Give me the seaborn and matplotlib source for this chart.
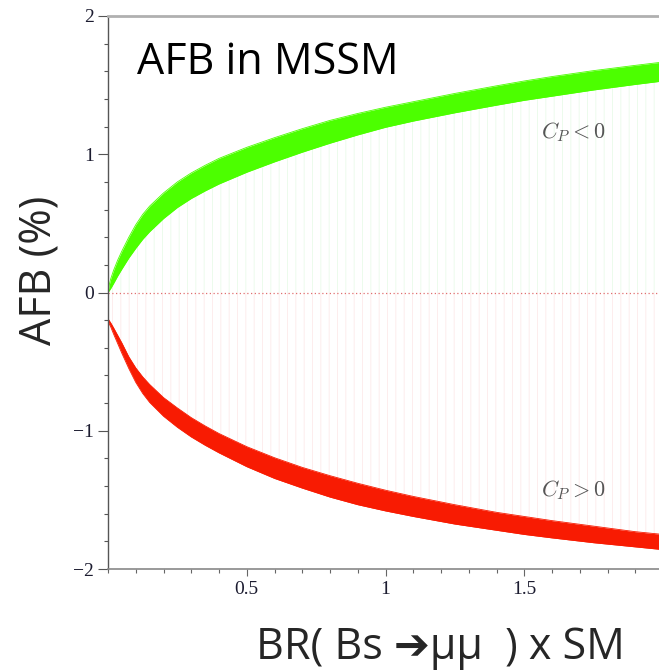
import numpy as np
import pandas as pd
import matplotlib
matplotlib.use("Agg")
import matplotlib.pyplot as plt
import seaborn as sns
from matplotlib.ticker import MultipleLocator, FixedLocator

# ---- data ----
br_sm = [0, 0.005, 0.01, 0.02, 0.035, 0.05, 0.075, 0.1, 0.125, 0.15, 0.2, 0.25, 0.3,
         0.35, 0.4, 0.5, 0.6, 0.7, 0.8, 0.9, 1.0, 1.1, 1.25, 1.4, 1.5, 1.6, 1.75, 1.9, 2.0]
cp_neg_upper = [0, 0.06, 0.10, 0.16, 0.235, 0.30, 0.40, 0.49, 0.565, 0.625, 0.72, 0.80, 0.865,
                0.92, 0.97, 1.05, 1.12, 1.185, 1.245, 1.295, 1.34, 1.38, 1.44, 1.495, 1.53,
                1.562, 1.605, 1.643, 1.667]
cp_neg_lower = [0, 0.015, 0.03, 0.065, 0.12, 0.17, 0.25, 0.32, 0.385, 0.44, 0.535, 0.615, 0.68,
                0.735, 0.785, 0.87, 0.945, 1.015, 1.08, 1.14, 1.195, 1.24, 1.30, 1.355, 1.39,
                1.42, 1.465, 1.505, 1.53]
cp_pos_upper = [-0.19, -0.205, -0.22, -0.255, -0.31, -0.365, -0.465, -0.545, -0.61, -0.665,
                -0.76, -0.835, -0.905, -0.965, -1.02, -1.115, -1.195, -1.265, -1.325, -1.38,
                -1.43, -1.475, -1.535, -1.59, -1.62, -1.65, -1.69, -1.73, -1.75]
cp_pos_lower = [-0.21, -0.23, -0.25, -0.30, -0.37, -0.44, -0.55, -0.65, -0.73, -0.795, -0.895,
                -0.975, -1.045, -1.105, -1.16, -1.26, -1.345, -1.415, -1.48, -1.535, -1.58,
                -1.62, -1.675, -1.72, -1.75, -1.775, -1.81, -1.84, -1.86]

y_ticks = [-2, -1, 0, 1, 2]
y_tick_labels = ["\u22122", "\u22121", "0", "1", "2"]
x_ticks = [0.5, 1, 1.5, 2]
x_tick_labels = ["0.5", "1", "1.5", "2"]

title_text = "AFB in MSSM"
ylabel_text = "AFB (%)"
xlabel_text = "BR( Bs \u2794\u03bc\u03bc  ) x SM"

GREEN = "#4cff00"
RED = "#f81b02"

df = pd.DataFrame({"x": br_sm, "gu": cp_neg_upper, "gl": cp_neg_lower,
                   "ru": cp_pos_upper, "rl": cp_pos_lower})

sns.set_theme(style="white")
plt.rcParams["font.family"] = ["Open Sans", "DejaVu Sans"]
plt.rcParams["mathtext.fontset"] = "cm"
plt.rcParams["hatch.linewidth"] = 0.6

fig = plt.figure(figsize=(6.59, 6.71), dpi=100)
ax = fig.add_axes([108 / 659, 102 / 671, 555 / 659, 553 / 671])

# faint vertical hatching between zero and the bands
ax.fill_between(df["x"], 0, df["gl"], facecolor="none", edgecolor="#e9fbe9",
                hatch="||", linewidth=0)
ax.fill_between(df["x"], 0, df["ru"], facecolor="none", edgecolor="#fdeaea",
                hatch="||", linewidth=0)

# bands
ax.fill_between(df["x"], df["gl"], df["gu"], color=GREEN, linewidth=0)
ax.fill_between(df["x"], df["rl"], df["ru"], color=RED, linewidth=0)
for col, c in [("gu", GREEN), ("gl", GREEN), ("ru", RED), ("rl", RED)]:
    sns.lineplot(data=df, x="x", y=col, ax=ax, color=c, lw=0.6)

ax.axhline(0, color="#e07070", ls=(0, (1, 2)), lw=0.9)

ax.set_xlim(0, 2)
ax.set_ylim(-2, 2)
ax.yaxis.set_major_locator(FixedLocator(y_ticks))
ax.set_yticklabels(y_tick_labels)
ax.yaxis.set_minor_locator(MultipleLocator(0.2))
ax.xaxis.set_major_locator(FixedLocator(x_ticks))
ax.set_xticklabels(x_tick_labels)
ax.xaxis.set_minor_locator(MultipleLocator(0.1))

for lab in ax.get_yticklabels() + ax.get_xticklabels():
    lab.set_family("Liberation Serif")
    lab.set_fontsize(14)
    lab.set_color("#1c1c30")

ax.tick_params(axis="y", which="major", direction="out", length=7, width=0.8,
               color="#555555", left=True, pad=3)
ax.tick_params(axis="y", which="minor", direction="out", length=3, width=0.8,
               color="#555555", left=True)
ax.tick_params(axis="x", which="major", direction="out", length=5, width=0.8,
               color="#666666", bottom=True, pad=4)
ax.tick_params(axis="x", which="minor", direction="out", length=3, width=0.8,
               color="#666666", bottom=True)

ax.spines["left"].set_color("#555555")
ax.spines["left"].set_linewidth(1.0)
ax.spines["bottom"].set_color("#888888")
ax.spines["bottom"].set_linewidth(1.2)
ax.spines["top"].set_color("#b0b0b0")
ax.spines["top"].set_linewidth(2.0)
ax.spines["right"].set_visible(False)

ax.set_xlabel("")
ax.set_ylabel("")
ax.text(0.052, 0.915, title_text, transform=ax.transAxes, fontsize=31,
        color="black", ha="left", va="center")
ax.text(1.676, 1.16, r"$C_P < 0$", fontsize=16, color="#555555", ha="center", va="center")
ax.text(1.676, -1.43, r"$C_P > 0$", fontsize=16, color="#555555", ha="center", va="center")

fig.text(40 / 659, 1 - 270 / 671, ylabel_text, rotation=90, fontsize=31,
         ha="center", va="center")
fig.text(440 / 659, 1 - 648 / 671, xlabel_text, fontsize=31,
         ha="center", va="center", family=["Open Sans", "DejaVu Sans"])

fig.savefig("out.png", dpi=100)
